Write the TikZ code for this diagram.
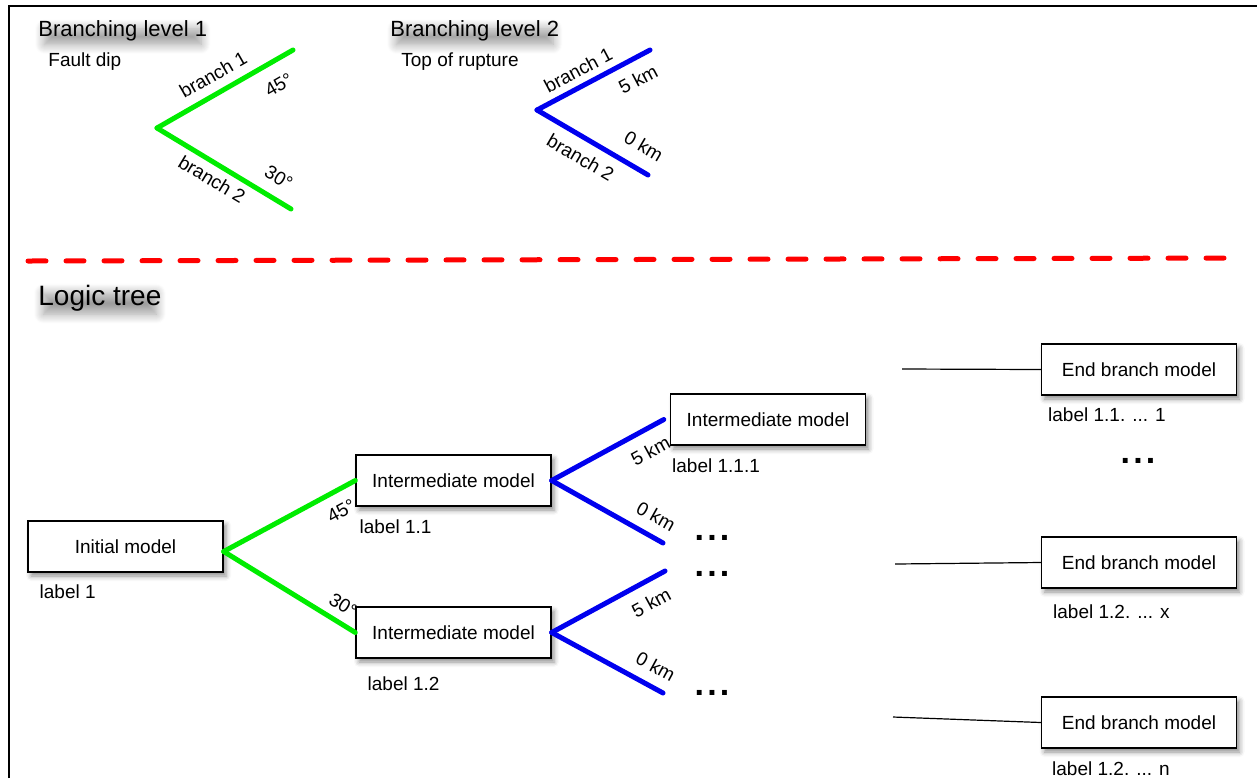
\documentclass[tikz,border=0pt]{standalone}
\usepackage{fontspec}
\setmainfont{Liberation Sans}
\usetikzlibrary{positioning,shadows.blur}
\definecolor{brgreen}{RGB}{0,236,0}
\definecolor{brblue}{RGB}{0,0,238}
\tikzset{
  every node/.style={font=\fontsize{9.5}{11}\selectfont},
  model/.style={draw, line width=0.7pt, fill=white, minimum width=97.5pt, minimum height=25.5pt,
    blur shadow={shadow xshift=1.5pt, shadow yshift=-2pt, shadow blur radius=2.5pt, shadow opacity=45}},
  heading/.style={anchor=west, inner sep=-1pt,
    blur shadow={shadow xshift=0pt, shadow yshift=-3pt, shadow scale=0.95, shadow blur radius=5pt,
      shadow blur steps=10, shadow opacity=38}},
  lbl/.style={anchor=west, inner sep=0pt},
  tag/.style={sloped, inner sep=0pt},
  greenbr/.style={draw=brgreen, line width=2.5pt, line cap=round},
  bluebr/.style={draw=brblue, line width=2.5pt, line cap=round},
  more/.style={font=\fontsize{17}{17}\selectfont\bfseries},
  feed/.style={draw, line width=0.6pt}
}
\newcommand{\spreaddots}{.\kern1.6pt.\kern1.6pt.}

\begin{document}
\begin{tikzpicture}[x=0.5pt, y=-0.5pt]
    \useasboundingbox (0,0) rectangle (1257,778);
    \draw[line width=1pt] (9,778) -- (9,6) -- (1257,6);

    \node[heading, font=\fontsize{11}{13}\selectfont] (lev1) at (40,31) {Branching level 1};
    \node[lbl] (dip) at (48,62) {Fault dip};
    \node[heading, font=\fontsize{11}{13}\selectfont] (lev2) at (392,31) {Branching level 2};
    \node[lbl] (rup) at (401,62) {Top of rupture};

    \coordinate (g0) at (157,128);
    \coordinate (g1) at (293,50);
    \coordinate (g2) at (291,209);
    \draw[greenbr] (g0) -- node[tag, pos=0.48, above=4.4pt] {branch 1} node[tag, pos=0.81, below=7pt] {45°} (g1);
    \draw[greenbr] (g0) -- node[tag, pos=0.47, below=3pt] {branch 2} node[tag, pos=0.83, above=5.6pt] {30°} (g2);

    \coordinate (b0) at (537,110);
    \coordinate (b1) at (650,50);
    \coordinate (b2) at (648,175);
    \draw[bluebr] (b0) -- node[tag, pos=0.43, above=3.2pt] {branch 1} node[tag, pos=0.81, below=5.4pt] {5 km} (b1);
    \draw[bluebr] (b0) -- node[tag, pos=0.48, below=4.8pt] {branch 2} node[tag, pos=0.86, above=6.5pt] {0 km} (b2);

    \draw[red, line width=2.5pt, line cap=round, dash pattern=on 9pt off 10pt] (28,261) -- (1240,258);

    \node[heading, font=\fontsize{14}{16}\selectfont] (tree) at (40,298) {Logic tree};

    \node[model] (init) at (125.5,546.5) {Initial model};
    \node[model] (im11) at (453.5,480.5) {Intermediate model};
    \node[model] (im12) at (453.5,632.5) {Intermediate model};
    \node[model] (im111) at (768,419.5) {Intermediate model};
    \node[model] (eb1) at (1139,369.5) {End branch model};
    \node[model] (eb2) at (1139,562.5) {End branch model};
    \node[model] (eb3) at (1139,722.5) {End branch model};

    \node[lbl] (l1) at ([xshift=6pt, yshift=-9.5pt]init.south west) {label 1};
    \node[lbl] (l11) at ([xshift=2pt, yshift=-10pt]im11.south west) {label 1.1};
    \node[lbl] (l12) at ([xshift=6pt, yshift=-12.5pt]im12.south west) {label 1.2};
    \node[lbl] (l111) at ([xshift=1pt, yshift=-10pt]im111.south west) {label 1.1.1};
    \node[lbl] (le1) at ([xshift=3.5pt, yshift=-9.5pt]eb1.south west) {label 1.1. ... 1};
    \node[lbl] (le2) at ([xshift=6pt, yshift=-11.5pt]eb2.south west) {label 1.2. ... x};
    \node[lbl] (le3) at ([xshift=5.5pt, yshift=-10pt]eb3.south west) {label 1.2. ... n};

    \coordinate (root) at ([yshift=-2.5pt]init.east);
    \draw[greenbr] (root) -- node[tag, pos=0.82, below=5.5pt] {45°} (im11.west);
    \draw[greenbr] (root) -- node[tag, pos=0.84, above=3.9pt] {30°} (im12.west);

    \coordinate (o11) at (663,543);
    \coordinate (f12) at (665,571);
    \coordinate (o12) at (663,693);
    \draw[bluebr] (im11.east) -- node[tag, pos=0.79, below=5.8pt] {5 km} ([xshift=-3pt]im111.west);
    \draw[bluebr] (im11.east) -- node[tag, pos=0.85, above=5.2pt] {0 km} (o11);
    \draw[bluebr] (im12.east) -- node[tag, pos=0.79, below=5.8pt] {5 km} (f12);
    \draw[bluebr] (im12.east) -- node[tag, pos=0.85, above=5.2pt] {0 km} (o12);

    \node[more] (m1) at (712,538) {\spreaddots};
    \node[more] (m2) at (712,574) {\spreaddots};
    \node[more] (m3) at (712,693) {\spreaddots};
    \node[more] (m4) at (1138,461) {\spreaddots};

    \coordinate (e1) at (902,369);
    \coordinate (e2) at (895,564);
    \coordinate (e3) at (893,717);
    \draw[feed] (e1) -- (eb1.west);
    \draw[feed] (e2) -- (eb2.west);
    \draw[feed] (e3) -- (eb3.west);
\end{tikzpicture}
\end{document}
